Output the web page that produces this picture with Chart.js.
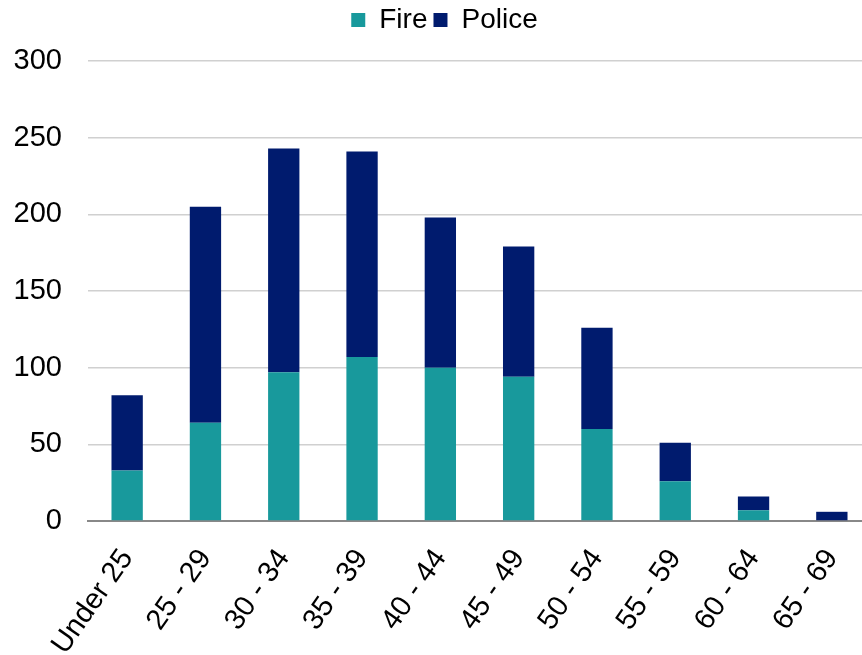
<!DOCTYPE html>
<html>
<head>
<meta charset="utf-8">
<script src="https://cdn.jsdelivr.net/npm/chart.js@4"></script>
<style>
  html, body { margin: 0; padding: 0; background: #fff; overflow: hidden; }
  #wrap { width: 862px; height: 655px; overflow: hidden; }
</style>
</head>
<body>
<!-- plot runs a little past the right edge in the original, so the canvas is wider than the window -->
<div id="wrap"><canvas id="ageChart" width="871" height="655"></canvas></div>
<script>
"use strict";

const ageGroups = ['Under 25', '25 - 29', '30 - 34', '35 - 39', '40 - 44', '45 - 49', '50 - 54', '55 - 59', '60 - 64', '65 - 69'];
const fireCounts = [33, 64, 97, 107, 100, 94, 60, 26, 7, 0];
const policeCounts = [49, 141, 146, 134, 98, 85, 66, 25, 9, 6];
const yTicks = [0, 50, 100, 150, 200, 250, 300];

const FONT = "'Liberation Sans', Arial, sans-serif";

// legend gets a fixed band on top and sits a bit right of centre, like the original
const legendBand = {
  id: 'legendBand',
  beforeLayout(chart) {
    const lg = chart.legend;
    if (lg && !lg._patched) {
      const fit = lg.fit;
      lg.fit = function() {
        fit.call(this);
        this.height = 61;
      };
      lg._patched = true;
    }
  },
  afterLayout(chart) {
    chart.legend.left += 9;
    chart.legend.right += 9;
  }
};

(function(){
  var ctx = document.getElementById('ageChart').getContext('2d');
  var ageChart = new Chart(ctx, {
    type: 'bar',
    data: {
      labels: ageGroups,
      datasets: [{
        label: 'Fire',
        data: fireCounts,
        backgroundColor: '#18999c',
        categoryPercentage: 1,
        barPercentage: 0.4
      }, {
        label: 'Police',
        data: policeCounts,
        backgroundColor: '#001b6e',
        categoryPercentage: 1,
        barPercentage: 0.4
      }]
    },
    options: {
      responsive: false,
      animation: false,
      layout: { padding: 0 },
      plugins: {
        tooltip: { enabled: false },
        legend: {
          position: 'top',
          labels: {
            color: '#000',
            font: { family: FONT, size: 28 },
            boxWidth: 14,
            boxHeight: 14,
            padding: 6
          }
        }
      },
      scales: {
        x: {
          stacked: true,
          grid: { display: false },
          border: { color: '#888', width: 2 },
          ticks: {
            color: '#000',
            font: { family: FONT, size: 29 },
            minRotation: 55,
            maxRotation: 55,
            padding: 14
          },
          afterFit: (scale) => {
            scale.height = 134;
            scale.paddingLeft = 0;
            scale.paddingRight = 0;
          }
        },
        y: {
          stacked: true,
          min: 0,
          max: 300,
          afterBuildTicks: (scale) => { scale.ticks = yTicks.map(v => ({ value: v })); },
          grid: { color: '#d0d0d0', lineWidth: 1.5, drawTicks: false },
          border: { display: false },
          ticks: {
            color: '#000',
            font: { family: FONT, size: 29 },
            padding: 26
          },
          afterFit: (scale) => { scale.width = 88; }
        }
      }
    },
    plugins: [legendBand]
  });
})();
</script>
</body>
</html>
